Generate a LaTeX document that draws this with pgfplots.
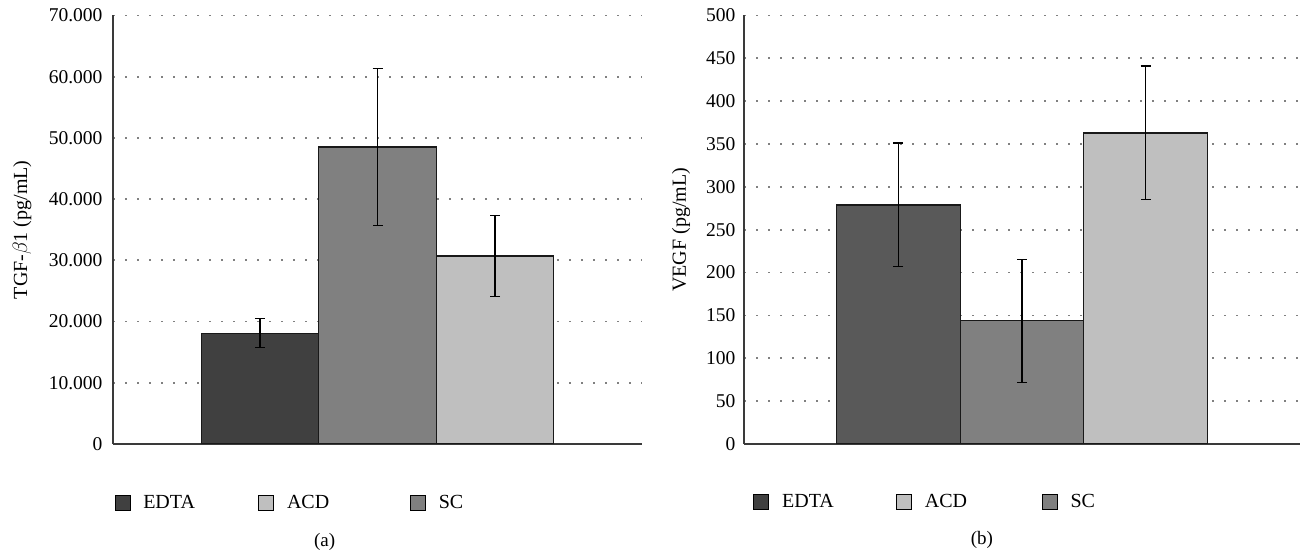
\documentclass[border=0pt]{standalone}
\usepackage{fontspec}
\setmainfont{Liberation Serif}
\usepackage{pgfplots}
\pgfplotsset{compat=1.18}
\definecolor{cdark}{HTML}{404040}
\definecolor{cdarkb}{HTML}{595959}
\definecolor{cmid}{HTML}{808080}
\definecolor{clight}{HTML}{BFBFBF}
\definecolor{axcol}{HTML}{3A3A3A}
\definecolor{gridc}{HTML}{808080}
\pgfplotsset{
  mybase/.style={
    scale only axis, height=428.5pt, anchor=south west,
    axis x line=bottom, axis y line=left,
    axis line style={-, draw=axcol, line width=1.6pt},
    xmin=-0.25, xmax=4.25, xtick=\empty, ymin=0,
    major tick length=0pt, clip mode=individual,
    ymajorgrids,
    major grid style={draw=gridc, line width=1.8pt, dash pattern=on 1.8pt off 10.2pt},
    tick label style={font=\fontsize{19.5}{22}\selectfont},
    yticklabel style={/pgf/number format/assume math mode=true},
    label style={font=\fontsize{20}{22}\selectfont},
    legend style={draw=none, fill=none, inner sep=0pt, legend columns=3,
      font=\fontsize{20}{22}\selectfont, nodes={inner sep=0pt}, anchor=west},
    legend cell align=left,
    legend image code/.code={\draw[##1, draw=black, line width=1.1pt] (0pt,-7.5pt) rectangle (15pt,7.5pt); \path (28pt,0pt);},
  },
  mybar/.style={ybar, bar width=1, bar shift=0pt, draw=black!90, line width=1.3pt, forget plot,
    error bars/y dir=both, error bars/y explicit,
    error bars/error mark=|,
    error bars/error bar style={line width=1.4pt, black},
    error bars/error mark options={mark size=5pt, line width=1.4pt, black}},
}
\begin{document}
\begin{tikzpicture}
\useasboundingbox (0,0) rectangle (1301pt,554pt);
\begin{axis}[mybase, at={(113pt,110pt)}, width=529pt,
  ymax=70000, ytick={0,10000,...,70000}, scaled y ticks=false,
  yticklabel style={xshift=-7pt, /pgf/number format/.cd, fixed, 1000 sep={.}},
  ylabel={TGF-$\beta$1 (pg/mL)},
  ylabel style={at={(axis description cs:-0.172,0.5)}, anchor=center},
  legend style={at={(axis description cs:0.0025,-0.137)}},
]
\addlegendimage{fill=cdark}
\addlegendimage{fill=clight}
\addlegendimage{fill=cmid}
\addplot[mybar, fill=cdark] coordinates {(1,18100) += (0,2400) -= (0,2300)};
\addplot[mybar, fill=cmid] coordinates {(2,48500) += (0,12800) -= (0,12800)};
\addplot[mybar, fill=clight] coordinates {(3,30700) += (0,6600) -= (0,6600)};
\legend{\makebox[115pt][l]{EDTA},\makebox[123pt][l]{ACD},SC}
\node[font=\fontsize{19}{22}\selectfont] at (axis description cs:0.40,-0.228) {(a)};
\end{axis}
\begin{axis}[mybase, at={(744pt,110pt)}, width=556pt,
  ymax=500, ytick={0,50,...,500},
  yticklabel style={xshift=-5pt},
  ylabel={VEGF (pg/mL)},
  ylabel style={at={(axis description cs:-0.113,0.5)}, anchor=center},
  legend style={at={(axis description cs:0.0165,-0.135)}},
]
\addlegendimage{fill=cdark}
\addlegendimage{fill=clight}
\addlegendimage{fill=cmid}
\addplot[mybar, fill=cdarkb] coordinates {(1,279) += (0,72) -= (0,72)};
\addplot[mybar, fill=cmid] coordinates {(2,144) += (0,71) -= (0,72)};
\addplot[mybar, fill=clight] coordinates {(3,363) += (0,78) -= (0,78)};
\legend{\makebox[114pt][l]{EDTA},\makebox[117pt][l]{ACD},SC}
\node[font=\fontsize{19}{22}\selectfont] at (axis description cs:0.428,-0.223) {(b)};
\end{axis}
\end{tikzpicture}
\end{document}
